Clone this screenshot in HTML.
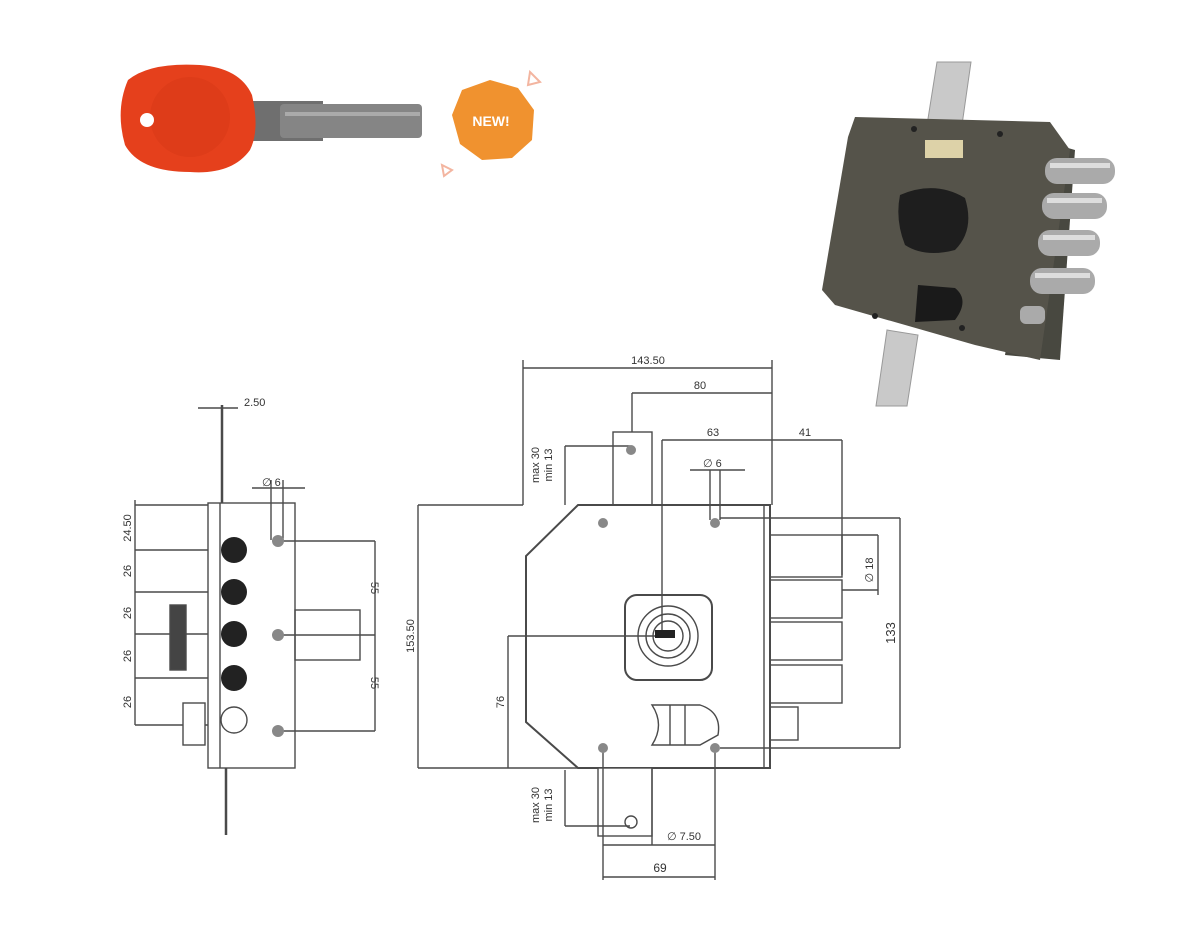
<!DOCTYPE html>
<html><head><meta charset="utf-8"><style>
html,body{margin:0;padding:0;background:#fff;}
svg{display:block;}
text{font-family:"Liberation Sans",sans-serif;fill:#333;}
</style></head><body>
<svg width="1200" height="934" viewBox="0 0 1200 934" xmlns="http://www.w3.org/2000/svg">
<!-- key -->
<rect x="245" y="101" width="78" height="40" fill="#6f6f6f"/>
<rect x="280" y="104" width="142" height="34" rx="4" fill="#858585"/>
<rect x="285" y="112" width="135" height="4" fill="#aaa"/>
<path d="M128,80 Q150,62 200,65 Q240,68 252,95 Q260,130 250,150 Q232,175 190,172 Q140,172 125,145 Q115,110 128,80Z" fill="#e5401c"/>
<circle cx="190" cy="117" r="40" fill="#d93a18" opacity="0.6"/>
<circle cx="147" cy="120" r="7" fill="#fff"/>
<!-- NEW badge -->
<polygon points="490,80 518,88 534,110 532,140 512,158 482,160 460,144 452,115 462,90" fill="#f0922f"/>
<text x="491" y="126" font-size="14" font-weight="bold" text-anchor="middle" style="fill:#fff">NEW!</text>
<polygon points="530,72 540,82 528,85" fill="none" stroke="#f3b5a0" stroke-width="2"/>
<polygon points="442,165 452,170 444,176" fill="none" stroke="#f3b5a0" stroke-width="2"/>
<!-- lock photo -->
<polygon points="937,62 971,62 962,125 927,125" fill="#c9c9c9" stroke="#999"/>
<polygon points="887,330 918,335 907,406 876,406" fill="#c9c9c9" stroke="#999"/>
<polygon points="1040,140 1075,150 1060,360 1005,355" fill="#484840"/>
<polygon points="855,117 1050,122 1070,150 1040,360 975,345 835,305 822,290 848,137" fill="#55534a"/>
<rect x="925" y="140" width="38" height="18" fill="#ddd2a8"/>
<path d="M900,195 Q935,180 965,198 Q975,230 955,250 Q925,258 905,245 Q895,220 900,195Z" fill="#1e1e1e"/>
<path d="M918,285 L955,288 Q970,300 955,320 L915,322Z" fill="#1a1a1a"/>
<g fill="#aaa"><rect x="1045" y="158" width="70" height="26" rx="12"/><rect x="1042" y="193" width="65" height="26" rx="12"/><rect x="1038" y="230" width="62" height="26" rx="12"/><rect x="1030" y="268" width="65" height="26" rx="12"/><rect x="1020" y="306" width="25" height="18" rx="6"/></g>
<g fill="#ddd"><rect x="1050" y="163" width="60" height="5"/><rect x="1047" y="198" width="55" height="5"/><rect x="1043" y="235" width="52" height="5"/><rect x="1035" y="273" width="55" height="5"/></g>
<g fill="#222"><circle cx="914" cy="129" r="3"/><circle cx="1000" cy="134" r="3"/><circle cx="875" cy="316" r="3"/><circle cx="962" cy="328" r="3"/></g>

<g stroke="#4a4a4a" stroke-width="1.4" fill="none">
<!-- left side view -->
<rect x="208" y="503" width="87" height="265"/>
<line x1="220" y1="503" x2="220" y2="768"/>
<line x1="222" y1="405" x2="222" y2="503" stroke-width="2.5"/>
<line x1="226" y1="768" x2="226" y2="835" stroke-width="2.5"/>
<line x1="198" y1="408" x2="238" y2="408"/>
<line x1="135" y1="500" x2="135" y2="725"/>
<line x1="135" y1="505" x2="208" y2="505"/><line x1="135" y1="550" x2="208" y2="550"/><line x1="135" y1="592" x2="208" y2="592"/><line x1="135" y1="634" x2="208" y2="634"/><line x1="135" y1="678" x2="208" y2="678"/><line x1="135" y1="725" x2="208" y2="725"/>
<rect x="170" y="605" width="16" height="65" fill="#444"/>
<rect x="183" y="703" width="22" height="42" fill="#fff"/>
<circle cx="234" cy="720" r="13"/>
<line x1="271" y1="480" x2="271" y2="540"/><line x1="283" y1="480" x2="283" y2="540"/><line x1="252" y1="488" x2="305" y2="488"/>
<rect x="295" y="610" width="65" height="50"/>
<line x1="278" y1="541" x2="375" y2="541"/><line x1="278" y1="635" x2="375" y2="635"/><line x1="278" y1="731" x2="375" y2="731"/>
<line x1="375" y1="541" x2="375" y2="731"/>
<!-- main front view -->
<line x1="523" y1="368" x2="772" y2="368"/><line x1="523" y1="360" x2="523" y2="505"/><line x1="772" y1="360" x2="772" y2="505"/>
<line x1="632" y1="393" x2="772" y2="393"/><line x1="632" y1="393" x2="632" y2="432"/>
<line x1="662" y1="440" x2="842" y2="440"/><line x1="662" y1="440" x2="662" y2="636"/><line x1="842" y1="440" x2="842" y2="575"/>
<rect x="613" y="432" width="39" height="73" fill="#fff"/>
<line x1="565" y1="446" x2="630" y2="446"/><line x1="565" y1="446" x2="565" y2="505"/>
<line x1="710" y1="470" x2="710" y2="520"/><line x1="720" y1="470" x2="720" y2="520"/><line x1="690" y1="470" x2="745" y2="470"/>
<line x1="418" y1="505" x2="523" y2="505"/><line x1="418" y1="768" x2="580" y2="768"/><line x1="418" y1="505" x2="418" y2="768"/>
<polygon points="578,505 770,505 770,768 578,768 526,722 526,556" stroke-width="2"/>
<line x1="764" y1="505" x2="764" y2="768"/>
<rect x="625" y="595" width="87" height="85" rx="12" stroke-width="2"/>
<circle cx="668" cy="636" r="30"/><circle cx="668" cy="636" r="22"/><circle cx="668" cy="636" r="15"/>
<line x1="508" y1="636" x2="668" y2="636"/><line x1="508" y1="636" x2="508" y2="768"/>
<path d="M652,705 L700,705 Q722,712 718,735 L700,745 L652,745 Q665,725 652,705Z"/>
<line x1="670" y1="705" x2="670" y2="745"/><line x1="685" y1="705" x2="685" y2="745"/>
<rect x="770" y="535" width="72" height="42"/><rect x="770" y="580" width="72" height="38"/><rect x="770" y="622" width="72" height="38"/><rect x="770" y="665" width="72" height="38"/>
<rect x="770" y="707" width="28" height="33"/>
<line x1="720" y1="518" x2="900" y2="518"/><line x1="720" y1="748" x2="900" y2="748"/><line x1="900" y1="518" x2="900" y2="748"/>
<line x1="842" y1="535" x2="878" y2="535"/><line x1="842" y1="590" x2="878" y2="590"/><line x1="878" y1="535" x2="878" y2="595"/>
<rect x="598" y="768" width="54" height="68" fill="#fff"/>
<line x1="565" y1="770" x2="565" y2="826"/><line x1="565" y1="826" x2="630" y2="826"/>
<line x1="603" y1="748" x2="603" y2="880"/><line x1="715" y1="748" x2="715" y2="880"/><line x1="603" y1="877" x2="715" y2="877"/>
<line x1="652" y1="768" x2="652" y2="845"/><line x1="603" y1="845" x2="715" y2="845"/>
<circle cx="631" cy="822" r="6"/>
</g>
<g fill="#888"><circle cx="278" cy="541" r="6"/><circle cx="278" cy="635" r="6"/><circle cx="278" cy="731" r="6"/><circle cx="631" cy="450" r="5"/><circle cx="603" cy="523" r="5"/><circle cx="715" cy="523" r="5"/><circle cx="603" cy="748" r="5"/><circle cx="715" cy="748" r="5"/></g>
<g fill="#222"><circle cx="234" cy="550" r="13"/><circle cx="234" cy="592" r="13"/><circle cx="234" cy="634" r="13"/><circle cx="234" cy="678" r="13"/></g>
<rect x="655" y="630" width="20" height="8" fill="#222"/>
<g font-size="11">
<text x="244" y="406">2.50</text><text x="262" y="486">∅ 6</text>
<text transform="translate(131,528) rotate(-90)" text-anchor="middle">24.50</text>
<text transform="translate(131,571) rotate(-90)" text-anchor="middle">26</text>
<text transform="translate(131,613) rotate(-90)" text-anchor="middle">26</text>
<text transform="translate(131,656) rotate(-90)" text-anchor="middle">26</text>
<text transform="translate(131,702) rotate(-90)" text-anchor="middle">26</text>
<text transform="translate(371,588) rotate(90)" text-anchor="middle">55</text>
<text transform="translate(371,683) rotate(90)" text-anchor="middle">55</text>
<text x="648" y="364" text-anchor="middle">143.50</text>
<text x="700" y="389" text-anchor="middle">80</text>
<text x="713" y="436" text-anchor="middle">63</text>
<text x="805" y="436" text-anchor="middle">41</text>
<text x="703" y="467">∅ 6</text>
<text transform="translate(539,465) rotate(-90)" text-anchor="middle">max 30</text>
<text transform="translate(552,465) rotate(-90)" text-anchor="middle">min 13</text>
<text transform="translate(539,805) rotate(-90)" text-anchor="middle">max 30</text>
<text transform="translate(552,805) rotate(-90)" text-anchor="middle">min 13</text>
<text transform="translate(414,636) rotate(-90)" text-anchor="middle">153.50</text>
<text transform="translate(504,702) rotate(-90)" text-anchor="middle">76</text>
<text transform="translate(873,570) rotate(-90)" text-anchor="middle">∅ 18</text>
<text transform="translate(895,633) rotate(-90)" text-anchor="middle" font-size="13">133</text>
<text x="667" y="840">∅ 7.50</text>
<text x="660" y="872" text-anchor="middle" font-size="12">69</text>
</g>
</svg>
</body></html>
